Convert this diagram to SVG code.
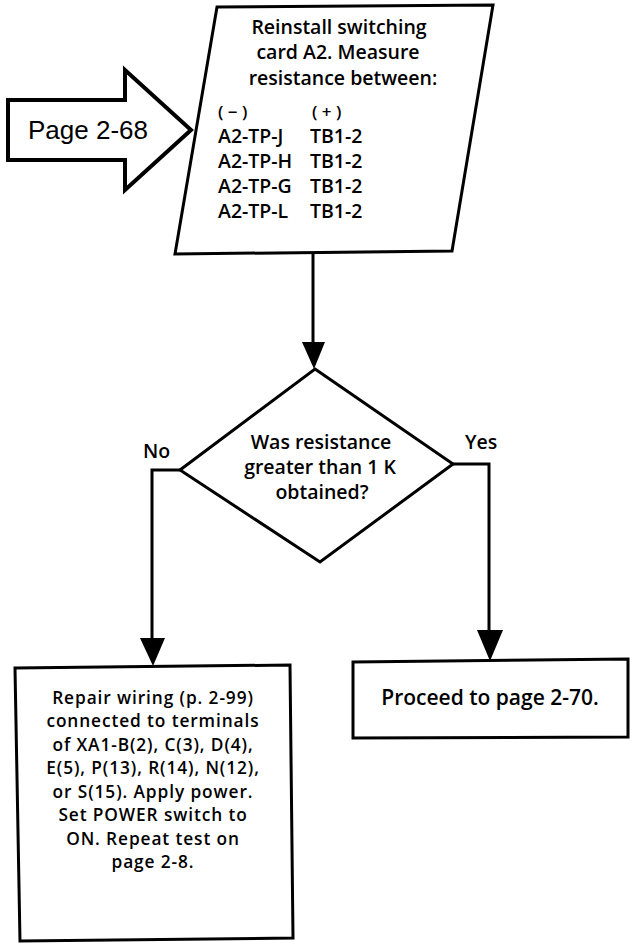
<svg xmlns="http://www.w3.org/2000/svg" width="637" height="947" viewBox="0 0 637 947">
<style>
.shape{fill:#fff;stroke:#000;stroke-width:3;stroke-linejoin:miter}
.conn{fill:none;stroke:#000;stroke-width:3}
.head{fill:#000;stroke:none}
.t{font-family:"Open Sans",Lato,"Liberation Sans",sans-serif;font-weight:600;font-size:19.5px;fill:#000}
.c{text-anchor:middle}
.r{font-size:17.3px;letter-spacing:0.9px}
.pg{font-family:"Liberation Sans",Arial,sans-serif;font-size:26px;fill:#000}
</style>
<rect width="637" height="947" fill="#fff"/>
<g id="entry">
<polygon class="shape" style="stroke-width:4" points="8,100 125,100 125,70 191,130 125,190 125,160 8,160"/>
<text class="pg" x="88" y="139" text-anchor="middle">Page 2-68</text>
</g>
<g id="measure">
<polygon class="shape" points="217,7 493,5 452,251 175,254"/>
<text class="t c" x="339" y="34">Reinstall switching</text>
<text class="t c" x="338" y="59">card A2. Measure</text>
<text class="t c" x="343" y="85">resistance between:</text>
<text class="t" x="218" y="118" style="font-size:17px">( − )</text>
<text class="t" x="312" y="118" style="font-size:17px">( + )</text>
<text class="t" x="218" y="143">A2-TP-J</text>
<text class="t" x="310" y="143">TB1-2</text>
<text class="t" x="218" y="168">A2-TP-H</text>
<text class="t" x="310" y="168">TB1-2</text>
<text class="t" x="218" y="193">A2-TP-G</text>
<text class="t" x="310" y="193">TB1-2</text>
<text class="t" x="218" y="218">A2-TP-L</text>
<text class="t" x="310" y="218">TB1-2</text>
</g>
<g id="decision">
<polygon class="shape" points="315,369 453,464 320,562 180,470"/>
<text class="t c" x="321" y="449">Was resistance</text>
<text class="t c" x="320" y="474">greater than 1 K</text>
<text class="t c" x="322" y="499">obtained?</text>
</g>
<g id="repair">
<polygon class="shape" points="15,668 290,665 293,938 20,941"/>
<text class="t c r" x="153" y="704">Repair wiring (p. 2-99)</text>
<text class="t c r" x="153" y="727">connected to terminals</text>
<text class="t c r" x="153" y="751">of XA1-B(2), C(3), D(4),</text>
<text class="t c r" x="153" y="774">E(5), P(13), R(14), N(12),</text>
<text class="t c r" x="153" y="798">or S(15). Apply power.</text>
<text class="t c r" x="153" y="821">Set POWER switch to</text>
<text class="t c r" x="153" y="845">ON. Repeat test on</text>
<text class="t c r" x="153" y="868">page 2-8.</text>
</g>
<g id="proceed">
<polygon class="shape" points="353,662 628,659 628,737 353,738"/>
<text class="t c" x="490" y="705" style="font-size:21px">Proceed to page 2-70.</text>
</g>
<g id="connectors">
<path class="conn" d="M313,254 V344"/>
<polygon class="head" points="302,342 325,342 314,369"/>
<path class="conn" d="M180,470 H152 V640"/>
<polygon class="head" points="140,638 165,638 153,666"/>
<path class="conn" d="M453,464 H489 V632"/>
<polygon class="head" points="477,630 503,630 490,661"/>
<text class="t" x="143" y="458">No</text>
<text class="t" x="465" y="449">Yes</text>
</g>
</svg>
